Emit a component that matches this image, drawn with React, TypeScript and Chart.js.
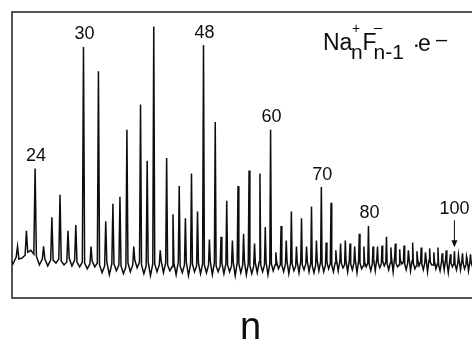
import React, { useEffect, useRef } from 'react';
import { Chart, registerables, LinearScale } from 'chart.js';

// Cluster size n (Na+_n F-_(n-1) e-) of each peak in the time-of-flight spectrum
const clusterSizes = [
  21, 22, 23, 24, 25, 26, 27, 28, 29, 30,
  31, 32, 33, 34, 35, 36, 37, 38, 39, 40,
  41, 42, 43, 44, 45, 46, 47, 48, 49, 50,
  51, 52, 53, 54, 55, 56, 57, 58, 59, 60,
  61, 62, 63, 64, 65, 66, 67, 68, 69, 70,
  71, 72, 73, 74, 75, 76, 77, 78, 79, 80,
  81, 82, 83, 84, 85, 86, 87, 88, 89, 90,
  91, 92, 93, 94, 95, 96, 97, 98, 99, 100,
  101, 102, 103, 104, 105, 106, 107, 108,
];

// Peak intensity (arbitrary units, 0 = mean baseline)
const peakHeights = [
  5, 15, 31, 95, 15, 45, 68, 31, 37, 220,
  15, 195, 41, 59, 66, 135, 15, 161, 103, 241,
  11, 106, 48, 77, 44, 90, 51, 222, 22, 143,
  25, 62, 21, 77, 28, 93, 18, 90, 35, 135,
  9, 36, 21, 51, 15, 44, 15, 56, 21, 76,
  19, 60, 11, 18, 21, 18, 15, 28, 15, 36,
  15, 15, 16, 25, 14, 18, 12, 16, 11, 19,
  10, 14, 9, 13, 9, 14, 8, 11, 7, 10,
  6, 8, 5, 7, 5, 6, 4, 5,
];

// Baseline signal between peak n and peak n+1 (at n+0.15, n+0.5, n+0.85)
const gapA = [
  3, 2, 9, 5, 2, 1, 0, 3, -1, -2,
  0, -4, -1, -3, -5, -2, 1, -4, -1, -3,
  0, -4, -2, -5, -1, -3, -2, -4, 0, -5,
  -2, -4, -1, -3, 0, -5, -2, -4, -1, -3,
  -1, -4, 0, -3, -1, -4, 0, -5, 1, -3,
  -1, -4, 1, -2, 0, -3, 1, -2, -1, -3,
  2, -2, 0, -3, 3, -2, 1, -3, 4, -2,
  2, -3, 3, -1, 0, -4, 2, -1, -2, -3,
  1, -2, 2, -1, 0, -2, 0, -1,
];
const gapB = [
  -3, 3, 11, -4, -5, -2, -4, -5, -6, -8,
  -6, -12, -14, -10, -13, -11, -7, -13, -15, -11,
  -12, -10, -14, -12, -15, -11, -13, -12, -14, -11,
  -13, -11, -15, -12, -14, -13, -12, -11, -14, -10,
  -8, -11, -13, -10, -12, -9, -11, -12, -10, -11,
  -8, -11, -10, -7, -11, -9, -12, -8, -6, -10,
  -10, -7, -5, -9, -11, -6, -3, -9, -10, -8,
  -5, -9, -11, -4, -8, -10, -9, -12, -6, -9,
  -9, -8, -10, -6, -9, -5, -7, -6,
];
const gapC = [
  4, 6, 7, 2, 1, 2, -1, 1, -1, -3,
  -2, -5, -3, -4, -6, -4, -1, -5, -3, -4,
  -2, -6, -1, -4, -3, -5, -3, -4, -2, -5,
  -3, -5, -2, -4, -3, -5, -1, -4, -3, -4,
  -4, -3, -2, -5, 0, -3, -2, -4, -1, -4,
  -3, -2, 0, -4, 1, -2, 0, -5, -2, -3,
  3, -3, -1, -2, 4, -4, -1, -2, 0, -5,
  -1, -2, 1, -4, -3, -1, 2, 0, -3, -2,
  1, -4, -1, -3, 0, -2, -1, -2,
];

const labeledClusters = [24, 30, 48, 60, 70, 80, 100];
const arrowClusters = [100];
const axisTitle = 'n';

// Mass ~ n, flight time ~ sqrt(mass): the n axis is a square-root (TOF) axis
const TOF_SHIFT = 2;

class TofScale extends LinearScale {
  static id = 'tof';
  static defaults = { ticks: { callback: (v: number) => String(v) } };
  getPixelForValue(value: number) {
    const lo = Math.sqrt(this.min - TOF_SHIFT);
    const hi = Math.sqrt(this.max - TOF_SHIFT);
    const s = Math.sqrt(Math.max(value - TOF_SHIFT, 0));
    return this.getPixelForDecimal((s - lo) / (hi - lo));
  }
  getValueForPixel(pixel: number) {
    const lo = Math.sqrt(this.min - TOF_SHIFT);
    const hi = Math.sqrt(this.max - TOF_SHIFT);
    const s = lo + this.getDecimalForPixel(pixel) * (hi - lo);
    return s * s + TOF_SHIFT;
  }
}

Chart.register(...registerables, TofScale as any);

const FONT = '"Liberation Sans", Arial, Helvetica, sans-serif';
const INK = '#0d0d0d';

const framePlugin = {
  id: 'frame',
  afterDatasetsDraw(chart: any) {
    const { ctx, chartArea: a } = chart;
    ctx.save();
    ctx.strokeStyle = '#1c1c1c';
    ctx.lineWidth = 1.5;
    ctx.strokeRect(a.left, a.top, a.right - a.left, a.bottom - a.top);
    ctx.restore();
  },
};

const peakLabelPlugin = {
  id: 'peakLabels',
  afterDatasetsDraw(chart: any) {
    const { ctx } = chart;
    const xs = chart.scales.x;
    const ys = chart.scales.y;
    ctx.save();
    ctx.fillStyle = INK;
    ctx.strokeStyle = INK;
    ctx.font = `18px ${FONT}`;
    ctx.textAlign = 'center';
    ctx.textBaseline = 'middle';
    labeledClusters.forEach((n) => {
      const i = clusterSizes.indexOf(n);
      const x = xs.getPixelForValue(n);
      const yTop = ys.getPixelForValue(peakHeights[i]);
      if (arrowClusters.includes(n)) {
        const y0 = yTop - 31;
        const y1 = yTop - 4;
        ctx.lineWidth = 1;
        ctx.beginPath();
        ctx.moveTo(x, y0);
        ctx.lineTo(x, y1 - 3);
        ctx.stroke();
        ctx.beginPath();
        ctx.moveTo(x - 3, y1 - 7);
        ctx.lineTo(x + 3, y1 - 7);
        ctx.lineTo(x, y1);
        ctx.closePath();
        ctx.fill();
        ctx.fillText(String(n), x, yTop - 42);
      } else {
        ctx.fillText(String(n), x + 1, yTop - 12.5);
      }
    });
    ctx.restore();
  },
};

const formulaPlugin = {
  id: 'formula',
  afterDraw(chart: any) {
    const { ctx } = chart;
    ctx.save();
    ctx.fillStyle = INK;
    ctx.textAlign = 'left';
    ctx.textBaseline = 'alphabetic';
    const put = (t: string, size: number, x: number, y: number) => {
      ctx.font = `${size}px ${FONT}`;
      ctx.fillText(t, x, y);
    };
    put('Na', 23, 323, 50);
    put('+', 14, 352, 33);
    put('n', 21, 351, 59);
    put('F', 23, 362.5, 50);
    put('\u2013', 15, 374, 32);
    put('n-1', 21, 373.5, 59);
    put('\u00b7', 23, 412.5, 52);
    put('e', 23, 418, 51);
    put('\u2013', 20, 436, 46);
    ctx.restore();
  },
};

export default function App() {
  const ref = useRef<HTMLCanvasElement | null>(null);

  useEffect(() => {
    if (!ref.current) return;
    const points: { x: number; y: number }[] = [];
    clusterSizes.forEach((n, i) => {
      points.push({ x: n, y: peakHeights[i] });
      points.push({ x: n + 0.15, y: gapA[i] });
      points.push({ x: n + 0.5, y: gapB[i] });
      points.push({ x: n + 0.85, y: gapC[i] });
    });

    const chart = new Chart(ref.current, {
      type: 'line',
      data: {
        datasets: [
          {
            data: points,
            borderColor: INK,
            borderWidth: 1.5,
            pointRadius: 0,
            tension: 0,
            fill: false,
          },
        ],
      },
      options: {
        responsive: false,
        animation: false,
        devicePixelRatio: 1,
        events: [],
        layout: { padding: { left: 12, top: 12, right: 1, bottom: 0 } },
        plugins: { legend: { display: false }, tooltip: { enabled: false } },
        scales: {
          x: {
            type: 'tof' as any,
            min: 21.39,
            max: 108.69,
            grid: { display: false },
            border: { display: false },
            ticks: { display: false },
            title: {
              display: true,
              text: axisTitle,
              color: INK,
              font: { family: FONT, size: 38, lineHeight: 1 },
              padding: { top: 4, bottom: -4 },
            },
          },
          y: {
            display: false,
            min: -38,
            max: 256,
          },
        },
      },
      plugins: [framePlugin, peakLabelPlugin, formulaPlugin],
    });
    return () => chart.destroy();
  }, []);

  return (
    <div
      style={{
        position: 'absolute',
        left: 0,
        top: 0,
        width: 472,
        height: 344,
        overflow: 'hidden',
        background: '#fff',
      }}
    >
      <canvas ref={ref} width={490} height={344} style={{ display: 'block', width: 490, height: 344 }} />
    </div>
  );
}
